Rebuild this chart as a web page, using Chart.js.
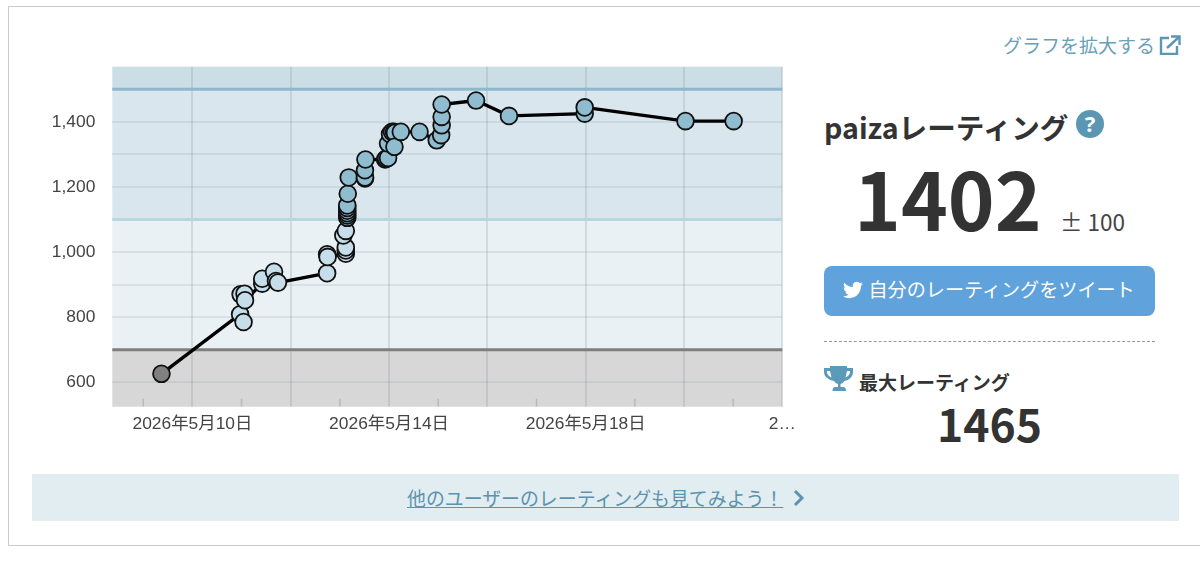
<!DOCTYPE html>
<html lang="ja">
<head>
<meta charset="utf-8">
<title>paizaレーティング</title>
<script src="https://cdn.jsdelivr.net/npm/chart.js@4/dist/chart.umd.min.js"></script>
<style>
    html, body { margin: 0; padding: 0; background: #fff; }
    body { width: 1200px; height: 570px; overflow: hidden; position: relative; font-family: 'Noto Sans CJK JP', 'Noto Sans', sans-serif; color: #333; }
    .abs { position: absolute; white-space: nowrap; }
    #frame { left: 8px; top: 6px; width: 1300px; height: 538px; border: 1px solid #ccc; }
    #chartWrapper { left: 32px; top: 60px; width: 770px; height: 385px; }
    #expand { left: 1003px; top: 30px; font-size: 19px; line-height: 30px; color: #6a9fb8; }
    #title { left: 824px; top: 107px; font-size: 28.6px; line-height: 40px; font-weight: 700; }
    #rating { left: 854px; top: 137px; font-size: 79.5px; line-height: 120px; font-weight: 700; }
    #range { left: 1060px; top: 205px; font-size: 22.5px; line-height: 32px; color: #444; }
    #tweet { left: 824px; top: 266px; width: 331px; height: 50px; border-radius: 8px; background: #60a3dc; }
    #tweetText { left: 868.5px; top: 274px; font-size: 19.1px; line-height: 30px; color: #fff; }
    #dash { left: 824px; top: 341px; width: 331px; border-top: 1px dashed #999; }
    #maxLabel { left: 859px; top: 367px; font-size: 19px; line-height: 30px; font-weight: 700; }
    #maxValue { left: 937px; top: 390px; font-size: 44.5px; line-height: 66px; font-weight: 700; }
    #banner { left: 32px; top: 474px; width: 1147px; height: 47px; background: #e2edf2; }
    #bannerText { left: 407px; top: 483px; font-size: 18.9px; line-height: 30px; color: #5c93ad; text-decoration: underline; }
</style>
</head>
<body>
<div class="abs" id="frame"></div>

<div class="abs" id="chartWrapper"><canvas id="ratingChart" width="770" height="385"></canvas></div>

<div class="abs" id="expand">グラフを拡大する</div>
<svg class="abs" style="left:1159px;top:35px" width="22" height="20" viewBox="0 0 22 20" fill="none" stroke="#5b96b3" stroke-width="2.4">
    <path d="M10 3H2v16h16v-8"/><path d="M8 13L20 2"/><path d="M12 1.5h8.5V10"/>
</svg>

<div class="abs" id="title">paizaレーティング</div>
<svg class="abs" style="left:1076px;top:110px" width="28" height="28" viewBox="0 0 28 28">
    <circle cx="14" cy="14" r="14" fill="#5b96b3"/>
    <text x="14" y="22" text-anchor="middle" font-size="22" font-weight="700" fill="#fff" font-family="Noto Sans">?</text>
</svg>

<div class="abs" id="rating">1402</div>
<div class="abs" id="range">± 100</div>

<div class="abs" id="tweet"></div>
<svg class="abs" style="left:843px;top:280px" width="20" height="20" viewBox="0 0 24 24" fill="#fff">
    <path d="M23.953 4.57a10 10 0 01-2.825.775 4.958 4.958 0 002.163-2.723c-.951.555-2.005.959-3.127 1.184a4.92 4.92 0 00-8.384 4.482C7.69 8.095 4.067 6.13 1.64 3.162a4.822 4.822 0 00-.666 2.475c0 1.71.87 3.213 2.188 4.096a4.904 4.904 0 01-2.228-.616v.06a4.923 4.923 0 003.946 4.827 4.996 4.996 0 01-2.212.085 4.936 4.936 0 004.604 3.417 9.867 9.867 0 01-6.102 2.105c-.39 0-.779-.023-1.17-.067a13.995 13.995 0 007.557 2.209c9.053 0 13.998-7.496 13.998-13.985 0-.21 0-.42-.015-.63A9.935 9.935 0 0024 4.59z"/>
</svg>
<div class="abs" id="tweetText">自分のレーティングをツイート</div>

<div class="abs" id="dash"></div>

<svg class="abs" style="left:823px;top:365px" width="31" height="28" viewBox="0 0 31 28">
    <path d="M7 1h17v2h6v4c0 5-4 8-8.500 9-1 1.500-2.500 2.500-4 3v3h3c1.500 0 2.500 1.500 2.500 4H9.500c0-2.500 1-4 2.500-4h3v-3c-1.500-.5-3-1.500-4-3C6 15 1 12 1 7V3h6z" fill="#5b9ab8"/>
    <path d="M7 6H4v1c0 2.500 2 4.500 4.500 5.500M24 6h3v1c0 2.500-2 4.500-4.500 5.500" fill="#fff"/>
</svg>
<div class="abs" id="maxLabel">最大レーティング</div>
<div class="abs" id="maxValue">1465</div>

<div class="abs" id="banner"></div>
<div class="abs" id="bannerText">他のユーザーのレーティングも見てみよう！</div>
<svg class="abs" style="left:792px;top:489px" width="14" height="18" viewBox="0 0 14 18" fill="none" stroke="#5c93ad" stroke-width="3">
    <path d="M3 2l7 7-7 7"/>
</svg>

<script>
// x is days counted from 2026-05-10, y is the rating
const ratingDays = [
    -0.63, 0.97, 0.98, 1.04, 1.06, 1.07, 1.42, 1.42, 1.66, 1.70, 1.74,
    2.74, 2.74, 2.75, 3.12, 3.12, 3.12, 3.07, 3.12, 3.15, 3.15, 3.15, 3.15, 3.15, 3.15, 3.16, 3.18,
    3.51, 3.51, 3.51, 3.52, 3.92, 3.94, 3.98, 3.98, 4.02, 4.06, 4.10, 4.12, 4.11, 4.24,
    4.62, 4.97, 5.06, 5.07, 5.07, 5.07, 5.77, 6.44, 7.98, 7.98, 10.03, 11.01
]
const ratingValues = [
    626, 809, 870, 785, 872, 852, 903, 918, 939, 911, 906,
    935, 993, 985, 995, 1005, 1014, 1051, 1065, 1105, 1112, 1119, 1127, 1135, 1143, 1179, 1229,
    1226, 1229, 1251, 1284, 1284, 1287, 1289, 1333, 1362, 1369, 1369, 1366, 1323, 1369,
    1369, 1343, 1359, 1389, 1415, 1453, 1465, 1418, 1425, 1444, 1402, 1402
]

const xGridDays = [0, 2, 4, 6, 8, 10, 12]
const xLabels = ['2026年5月10日', '', '2026年5月14日', '', '2026年5月18日', '', '2…']
const xMinorDays = [-1, 1, 3, 5, 7, 9, 11]
const yGridValues = [600, 700, 800, 900, 1000, 1100, 1200, 1300, 1400, 1500]
const yLabelValues = [600, 800, 1000, 1200, 1400]

const bandLimits = [525, 700, 1100, 1500, 1569]
const bandColors = ['#d7d7d7', '#e9f1f4', '#d9e6ed', '#cbdde5']
const bandLineColors = ['#7f7f7f', '#b8d6e2', '#8fb8cc']
const pointColors = ['#808080', '#c6dee9', '#8fbccf', '#8fbccf']

const pointColor = (value) => {
    const band = bandLimits.findIndex((limit, i) => value >= limit && value < bandLimits[i + 1])
    return pointColors[band]
}

const bandPlugin = {
    id: 'bands',
    beforeDraw: (chart) => {
        const {ctx, chartArea, scales} = chart
        bandColors.forEach((color, i) => {
            const top = scales.y.getPixelForValue(bandLimits[i + 1])
            const bottom = scales.y.getPixelForValue(bandLimits[i])
            ctx.fillStyle = color
            ctx.fillRect(chartArea.left, top, chartArea.right - chartArea.left, bottom - top)
        })
    },
    beforeDatasetsDraw: (chart) => {
        const {ctx, chartArea, scales} = chart
        ctx.save()
        ctx.lineWidth = 3
        bandLineColors.forEach((color, i) => {
            const y = scales.y.getPixelForValue(bandLimits[i + 1])
            ctx.strokeStyle = color
            ctx.beginPath()
            ctx.moveTo(chartArea.left, y)
            ctx.lineTo(chartArea.right, y)
            ctx.stroke()
        })
        // short ticks on the odd days
        ctx.lineWidth = 1.5
        ctx.strokeStyle = 'rgba(110, 120, 130, 0.3)'
        xMinorDays.forEach((day) => {
            const x = scales.x.getPixelForValue(day)
            ctx.beginPath()
            ctx.moveTo(x, chartArea.bottom)
            ctx.lineTo(x, chartArea.bottom - 8)
            ctx.stroke()
        })
        ctx.restore()
    }
}

const tickFont = {family: "'Liberation Sans', 'Noto Sans CJK JP', sans-serif", size: 17.4}

new Chart(document.getElementById('ratingChart'), {
    type: 'line',
    plugins: [bandPlugin],
    data: {
        datasets: [{
            data: ratingDays.map((day, i) => ({x: day, y: ratingValues[i]})),
            borderColor: '#000',
            borderWidth: 3.4,
            tension: 0,
            pointRadius: 8.4,
            pointBorderWidth: 1.8,
            pointBorderColor: '#111',
            pointBackgroundColor: ratingValues.map(pointColor)
        }]
    },
    options: {
        responsive: false,
        animation: false,
        events: [],
        layout: {autoPadding: false, padding: {top: 6.7, right: 19.7, left: 0, bottom: 0}},
        plugins: {legend: {display: false}, tooltip: {enabled: false}},
        scales: {
            x: {
                type: 'linear',
                min: -1.63,
                max: 12,
                grid: {color: 'rgba(125, 140, 150, 0.22)', lineWidth: 2, drawTicks: false},
                border: {display: false},
                afterBuildTicks: (scale) => { scale.ticks = xGridDays.map(value => ({value})) },
                afterFit: (scale) => {
                    scale.height = 38.3
                    scale.paddingLeft = 0
                    scale.paddingRight = 0
                },
                ticks: {
                    autoSkip: false,
                    maxRotation: 0,
                    padding: 7,
                    color: '#444',
                    font: tickFont,
                    callback: (value) => xLabels[xGridDays.indexOf(value)]
                }
            },
            y: {
                type: 'linear',
                min: 525,
                max: 1569,
                grid: {color: 'rgba(125, 140, 150, 0.16)', lineWidth: 2, drawTicks: false},
                border: {display: false},
                afterBuildTicks: (scale) => { scale.ticks = yGridValues.map(value => ({value})) },
                afterFit: (scale) => {
                    scale.width = 80.3
                    scale.paddingTop = 0
                    scale.paddingBottom = 0
                },
                ticks: {
                    autoSkip: false,
                    padding: 17,
                    color: '#444',
                    font: tickFont,
                    callback: (value) => yLabelValues.includes(value) ? value.toLocaleString('en-US') : ''
                }
            }
        }
    }
})
</script>
</body>
</html>
